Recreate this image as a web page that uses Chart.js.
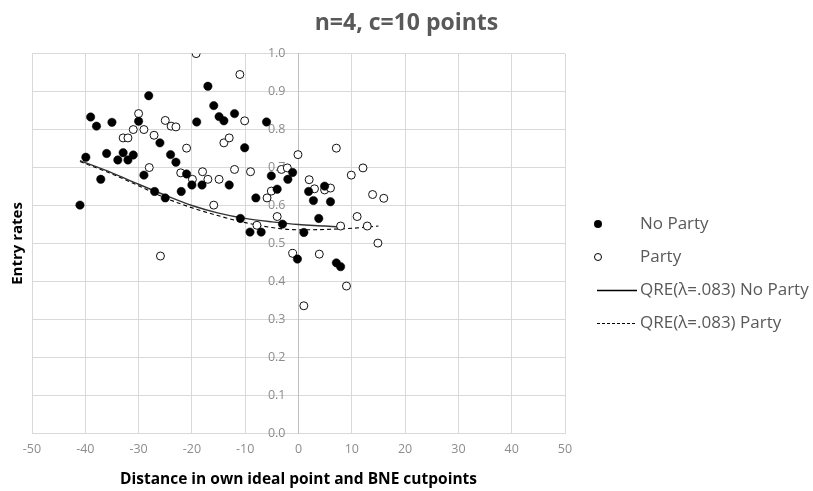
<!DOCTYPE html>
<html>
<head>
<meta charset="utf-8">
<title>Entry rates</title>
<script src="https://cdn.jsdelivr.net/npm/chart.js@4.4.1/dist/chart.umd.min.js"></script>
<style>
  html, body { margin: 0; padding: 0; background: #fff; }
</style>
</head>
<body>
<canvas id="entryChart" width="813" height="491"></canvas>
<script>
// Observed entry rates, No Party sessions (filled dots)
const noPartyX = [-28.1, -39.0, -37.9, -35.0, -30.0, -26.0, -39.9, -36.0, -32.9, -33.9,
                  -32.0, -31.0, -37.1, -29.0, -27.0, -25.0, -41.0, -24.0, -23.0, -21.0,
                  -20.0, -18.1, -13.0, -22.0, -17.0, -15.9, -14.9, -14.0, -12.0, -19.1,
                  -6.0, -10.1, -8.0, -10.9, -9.1, -7.0, -5.1, -4.0, -2.0, -1.1,
                  -3.0, -0.2, 1.9, 2.8, 4.9, 6.0, 3.8, 1.0, 7.1, 7.9];
const noPartyY = [0.889, 0.833, 0.809, 0.819, 0.822, 0.765, 0.727, 0.737, 0.739, 0.720,
                  0.720, 0.733, 0.669, 0.680, 0.637, 0.620, 0.601, 0.734, 0.714, 0.683,
                  0.654, 0.654, 0.654, 0.637, 0.914, 0.863, 0.834, 0.823, 0.842, 0.820,
                  0.820, 0.752, 0.620, 0.566, 0.530, 0.530, 0.678, 0.643, 0.669, 0.687,
                  0.551, 0.459, 0.637, 0.613, 0.651, 0.610, 0.566, 0.529, 0.449, 0.439];

// Observed entry rates, Party sessions (open circles)
const partyX = [-30.0, -25.0, -23.9, -23.0, -31.0, -29.0, -32.9, -32.0, -27.1, -28.0,
                -25.9, -19.2, -11.0, -21.0, -14.0, -13.0, -10.1, -22.1, -19.9, -18.0,
                -17.0, -14.9, -12.0, -9.0, -15.9, -7.8, -5.9, -5.1, -4.0, -3.2,
                -2.1, -1.1, -0.1, 7.1, 2.0, 3.0, 4.9, 6.0, 9.9, 12.1,
                13.9, 16.0, 11.0, 12.9, 7.9, 14.9, 3.9, 9.0, 1.0];
const partyY = [0.842, 0.824, 0.809, 0.807, 0.800, 0.800, 0.778, 0.778, 0.785, 0.700,
                0.467, 1.000, 0.945, 0.751, 0.765, 0.778, 0.823, 0.686, 0.669, 0.689,
                0.669, 0.669, 0.695, 0.689, 0.601, 0.548, 0.620, 0.638, 0.571, 0.695,
                0.699, 0.474, 0.734, 0.751, 0.668, 0.644, 0.641, 0.646, 0.680, 0.699,
                0.629, 0.619, 0.571, 0.546, 0.546, 0.501, 0.472, 0.388, 0.336];

// QRE predictions (lambda = .083)
const qreNoPartyX = [-41, -35, -30, -25, -20, -15, -10, -5, 0, 5, 8];
const qreNoPartyY = [0.718, 0.686, 0.656, 0.627, 0.600, 0.580, 0.566, 0.557, 0.550, 0.546, 0.543];
const qrePartyX = [-41, -35, -30, -25, -20, -15, -10, -5, 0, 5, 10, 15];
const qrePartyY = [0.716, 0.683, 0.652, 0.620, 0.594, 0.573, 0.555, 0.542, 0.536, 0.537, 0.540, 0.546];

const seriesNames = ['No Party', 'Party', 'QRE(\u03bb=.083) No Party', 'QRE(\u03bb=.083) Party'];
const xTicks = [-50, 50, 10];   // min, max, step
const yTicks = [0, 1, 0.1];

function toPoints(xs, ys) {
    return xs.map((x, i) => ({ x: x, y: ys[i] }));
}

const FONT = "'Open Sans', sans-serif";
const tickColor = '#8c8c8c';
const gridColor = '#d9d9d9';
const tickFont = { size: 12.5 };
Chart.defaults.font.family = FONT;

// Legend to the right of the plot, drawn by hand (Excel style symbols)
const legendFont = 17;
const legendStep = 33;
const legendSpace = 248;
const legendKinds = ['dot', 'ring', 'solid', 'dash'];

const sideLegend = {
    id: 'sideLegend',
    afterDraw(chart) {
        const { ctx, chartArea } = chart;
        const left = chartArea.right;
        const midY = (chartArea.top + chartArea.bottom) / 2 + 30;
        const firstY = midY - legendStep * (chart.data.datasets.length - 1) / 2;
        ctx.save();
        chart.data.datasets.forEach((ds, i) => {
            const y = Math.round(firstY + i * legendStep);
            const kind = legendKinds[i];
            ctx.strokeStyle = '#000';
            ctx.fillStyle = '#000';
            if (kind === 'dot') {
                ctx.beginPath();
                ctx.arc(left + 33, y, 4, 0, Math.PI * 2);
                ctx.fill();
            } else if (kind === 'ring') {
                ctx.beginPath();
                ctx.arc(left + 33, y, 3.5, 0, Math.PI * 2);
                ctx.fillStyle = '#fff';
                ctx.fill();
                ctx.lineWidth = 1;
                ctx.stroke();
            } else {
                ctx.lineWidth = kind === 'solid' ? 1.3 : 1;
                ctx.setLineDash(kind === 'dash' ? [3, 2] : []);
                ctx.beginPath();
                ctx.moveTo(left + 32, y + 0.5);
                ctx.lineTo(left + 72, y + 0.5);
                ctx.stroke();
                ctx.setLineDash([]);
            }
            ctx.font = legendFont + 'px ' + FONT;
            ctx.fillStyle = '#595959';
            ctx.textBaseline = 'middle';
            ctx.textAlign = 'left';
            ctx.fillText(ds.label, left + 75, y);
        });
        ctx.restore();
    }
};

const ctx = document.getElementById('entryChart').getContext('2d');
const chart = new Chart(ctx, {
    type: 'scatter',
    data: {
        datasets: [
            {
                label: seriesNames[0],
                data: toPoints(noPartyX, noPartyY),
                pointRadius: 4.2,
                pointBackgroundColor: '#000',
                pointBorderColor: '#000',
                pointBorderWidth: 0.5
            },
            {
                label: seriesNames[1],
                data: toPoints(partyX, partyY),
                pointRadius: 4,
                pointBackgroundColor: '#fff',
                pointBorderColor: '#111',
                pointBorderWidth: 1
            },
            {
                label: seriesNames[2],
                type: 'line',
                data: toPoints(qreNoPartyX, qreNoPartyY),
                showLine: true,
                borderColor: '#333',
                borderWidth: 1.4,
                pointRadius: 0,
                fill: false,
                cubicInterpolationMode: 'monotone'
            },
            {
                label: seriesNames[3],
                type: 'line',
                data: toPoints(qrePartyX, qrePartyY),
                showLine: true,
                borderColor: '#000',
                borderWidth: 1.1,
                borderDash: [4, 3],
                pointRadius: 0,
                fill: false,
                cubicInterpolationMode: 'monotone'
            }
        ]
    },
    options: {
        responsive: false,
        animation: false,
        events: [],
        layout: {
            padding: { left: 0, right: 0, top: 6, bottom: 0 }
        },
        plugins: {
            title: {
                display: true,
                text: 'n=4, c=10 points',
                color: '#595959',
                font: { size: 23, weight: 'bold' },
                padding: { top: 4, bottom: 16 }
            },
            legend: { display: false },
            tooltip: { enabled: false }
        },
        scales: {
            x: {
                type: 'linear',
                min: xTicks[0],
                max: xTicks[1],
                ticks: { stepSize: xTicks[2], color: tickColor, font: tickFont, padding: 9 },
                grid: { color: gridColor, drawTicks: false },
                border: { color: gridColor },
                title: {
                    display: true,
                    text: 'Distance in own ideal point and BNE cutpoints',
                    color: '#000',
                    font: { size: 15.5, weight: 'bold' },
                    padding: { top: 4, bottom: 2 }
                }
            },
            y: {
                type: 'linear',
                position: { x: 0 },
                min: yTicks[0],
                max: yTicks[1],
                ticks: {
                    stepSize: yTicks[2],
                    color: tickColor,
                    font: tickFont,
                    // labels sit a little left of the x=0 axis line
                    callback: v => v.toFixed(1) + '    '
                },
                grid: { color: gridColor, drawTicks: false },
                border: { color: '#bfbfbf' }
            },
            yTitle: {
                axis: 'y',
                type: 'linear',
                position: 'left',
                min: yTicks[0],
                max: yTicks[1],
                ticks: { display: false },
                grid: { display: false, drawTicks: false },
                border: { display: false },
                title: {
                    display: true,
                    text: 'Entry rates',
                    color: '#000',
                    font: { size: 15, weight: 'bold' },
                    padding: { top: 9, bottom: 5 }
                }
            },
            // empty axis that keeps room for the legend on the right
            legendRoom: {
                axis: 'y',
                type: 'linear',
                position: 'right',
                min: yTicks[0],
                max: yTicks[1],
                ticks: { display: false },
                grid: { display: false, drawTicks: false },
                border: { display: false },
                afterFit(scale) {
                    scale.width = legendSpace;
                }
            }
        }
    },
    plugins: [sideLegend]
});
</script>
</body>
</html>
